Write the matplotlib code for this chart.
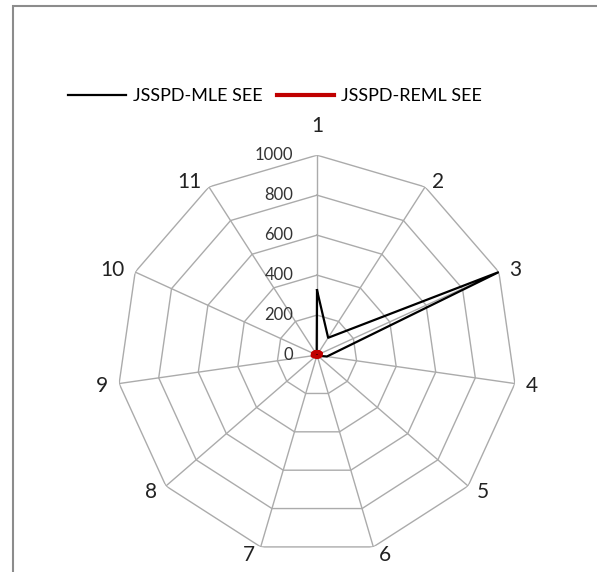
import numpy as np
import matplotlib
matplotlib.use("Agg")
import matplotlib.pyplot as plt
from matplotlib.patches import Rectangle

plt.rcParams['font.family'] = ['Lato', 'DejaVu Sans']

categories = ['1', '2', '3', '4', '5', '6', '7', '8', '9', '10', '11']
mle_see = [325, 103, 1000, 50, 5, 3, 3, 3, 3, 3, 3]
reml_see = [15, 18, 22, 18, 12, 10, 10, 12, 22, 22, 18]
rticks = [0, 200, 400, 600, 800, 1000]

n = len(categories)
theta = np.linspace(0, 2 * np.pi, n, endpoint=False)
theta_c = np.append(theta, theta[0])

fig = plt.figure(figsize=(5.97, 5.72), dpi=100)
ax = fig.add_axes([0.196, 0.0297, 0.670, 0.699], projection='polar')
ax.set_theta_offset(np.pi / 2)
ax.set_theta_direction(-1)
ax.set_ylim(0, 1000)
ax.spines['polar'].set_visible(False)
ax.yaxis.grid(False)
ax.set_yticks(rticks)
ax.set_yticklabels([])
ax.set_xticks(theta)
ax.set_xticklabels([])
ax.xaxis.grid(True, color='#ababab', linewidth=1)

# polygon rings
for r in rticks[1:]:
    ax.plot(theta_c, [r] * (n + 1), color='#ababab', lw=1, zorder=1)
for r in rticks:
    ax.annotate(str(r), xy=(0, r), xytext=(-17, 0), textcoords='offset points',
                ha='right', va='center', fontsize=12, color='#333333')

# category labels next to each outer vertex (offsets in px -> points)
for t, lab in zip(theta, categories):
    s, c = np.sin(t), np.cos(t)
    if abs(s) < 0.1:
        off, ha, va = (0, 19), 'center', 'bottom'
    else:
        off = (np.sign(s) * (3 + 8 * abs(s)), 7 * c - 1)
        ha = 'left' if s > 0 else 'right'
        va = 'center'
    ax.annotate(lab, xy=(t, 1000), xytext=(off[0] * 0.72, off[1] * 0.72),
                textcoords='offset points', ha=ha, va=va, fontsize=15,
                color='#222222')

ax.plot(theta_c, mle_see + mle_see[:1], color='black', lw=1.6,
        label='JSSPD-MLE SEE', zorder=3)
ax.plot(theta_c, reml_see + reml_see[:1], color='#c00000', lw=3,
        label='JSSPD-REML SEE', zorder=4)

fig.legend(loc='center', bbox_to_anchor=(275 / 597, 0.832), ncol=2,
           frameon=False, fontsize=13, handlelength=3.2, columnspacing=0.8,
           handletextpad=0.35)

fig.patches.append(Rectangle((13 / 597, -0.1), 1.2, 1.1 - 6 / 572,
                             transform=fig.transFigure, fill=False,
                             edgecolor='#8c8c8c', lw=1.5))

fig.savefig('out.png', dpi=100)
